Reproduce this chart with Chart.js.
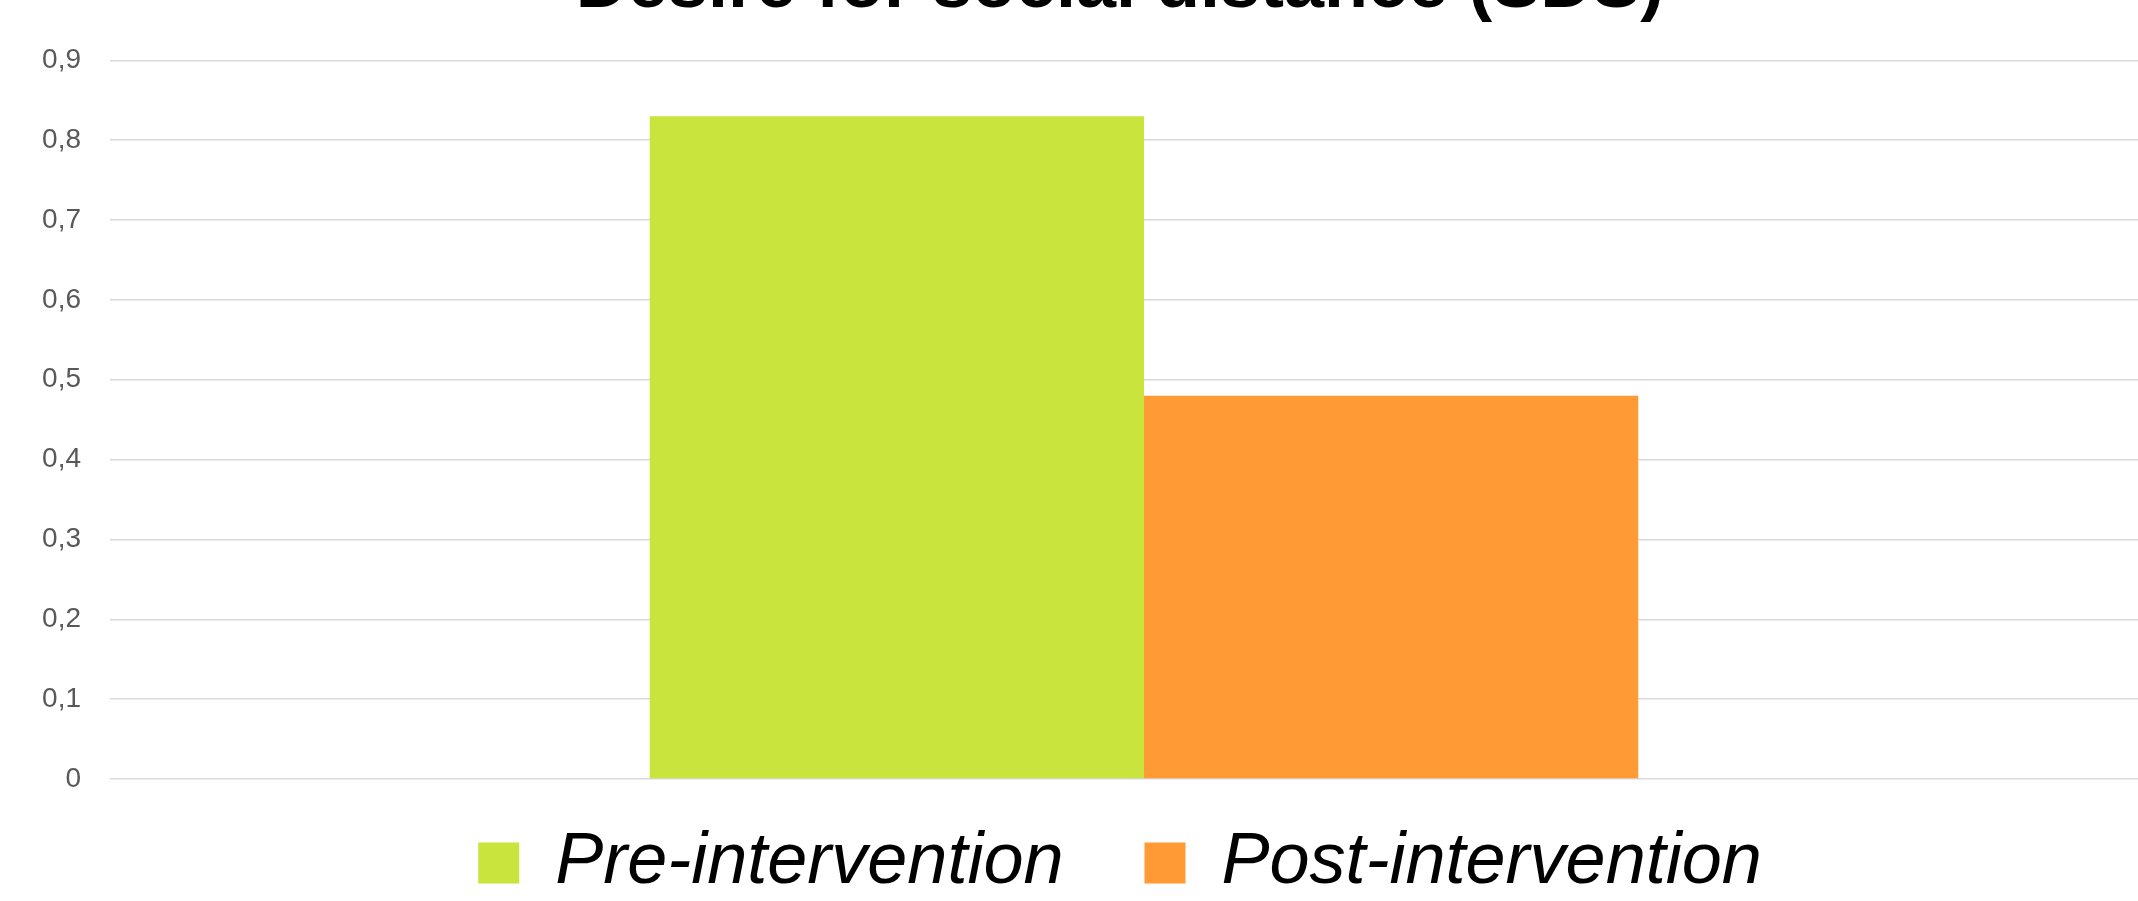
<!DOCTYPE html>
<html>
<head>
<meta charset="utf-8">
<script src="https://cdn.jsdelivr.net/npm/chart.js@4/dist/chart.umd.min.js"></script>
<style>
  html, body { margin: 0; padding: 0; background: #fff; overflow: hidden; }
  #wrap { position: absolute; left: 0; top: -56px; width: 2240px; height: 998px; }
</style>
</head>
<body>
<div id="wrap"><canvas id="sdsChart"></canvas></div>
<script>
// Desire for social distance chart

const categories = ['SDS'];
const seriesNames = ['Pre-intervention', 'Post-intervention'];
const preValues = [0.83];
const postValues = [0.48];
const yTickValues = [0, 0.1, 0.2, 0.3, 0.4, 0.5, 0.6, 0.7, 0.8, 0.9];

const ctx = document.getElementById('sdsChart').getContext('2d');

// Tick labels use a decimal comma
function commaLabel(v) {
    if (v === 0) return '0';
    return v.toFixed(1).replace('.', ',');
}

// legend needs wide item spacing but sits close to the plot, so pull it up
const legendLift = {
    id: 'legendLift',
    afterLayout(chart) {
        chart.legend.top -= 33;
        chart.legend.bottom -= 33;
    }
};

const sdsChart = new Chart(ctx, {
    type: 'bar',
    data: {
        labels: categories,
        datasets: [{
            label: seriesNames[0],
            data: preValues,
            backgroundColor: '#C9E43D',
            borderWidth: 0
        }, {
            label: seriesNames[1],
            data: postValues,
            backgroundColor: '#FF9A35',
            borderWidth: 0
        }]
    },
    options: {
        responsive: true,
        maintainAspectRatio: false,
        animation: false,
        datasets: {
            bar: { barPercentage: 1, categoryPercentage: 0.478 }
        },
        layout: { padding: 0 },
        scales: {
            x: { display: false },
            y: {
                min: 0,
                max: 0.9,
                afterBuildTicks: (scale) => { scale.ticks = yTickValues.map(v => ({ value: v })); },
                afterFit: (scale) => { scale.width = 110; },
                border: { display: false },
                grid: { color: '#d9d9d9', lineWidth: 1.5, drawTicks: false },
                ticks: {
                    padding: 29,
                    color: '#595959',
                    font: { family: 'Liberation Sans', size: 28 },
                    callback: (v) => commaLabel(v)
                }
            },
            // empty right axis, keeps the plot off-centre like the original
            y2: {
                position: 'right',
                display: true,
                min: 0,
                max: 0.9,
                afterFit: (scale) => { scale.width = 62; },
                border: { display: false },
                grid: { display: false },
                ticks: { display: false }
            }
        },
        plugins: {
            title: {
                display: true,
                text: 'Desire for social distance (SDS)',
                color: '#000',
                font: { family: 'Liberation Sans', size: 72, weight: 'bold' },
                padding: { top: 0, bottom: 30 }
            },
            legend: {
                position: 'bottom',
                labels: {
                    boxWidth: 41,
                    boxHeight: 41,
                    padding: 81,
                    color: '#000',
                    font: { family: 'Liberation Sans', size: 72, style: 'italic' }
                }
            },
            tooltip: { enabled: false }
        }
    },
    plugins: [legendLift]
});
</script>
</body>
</html>
